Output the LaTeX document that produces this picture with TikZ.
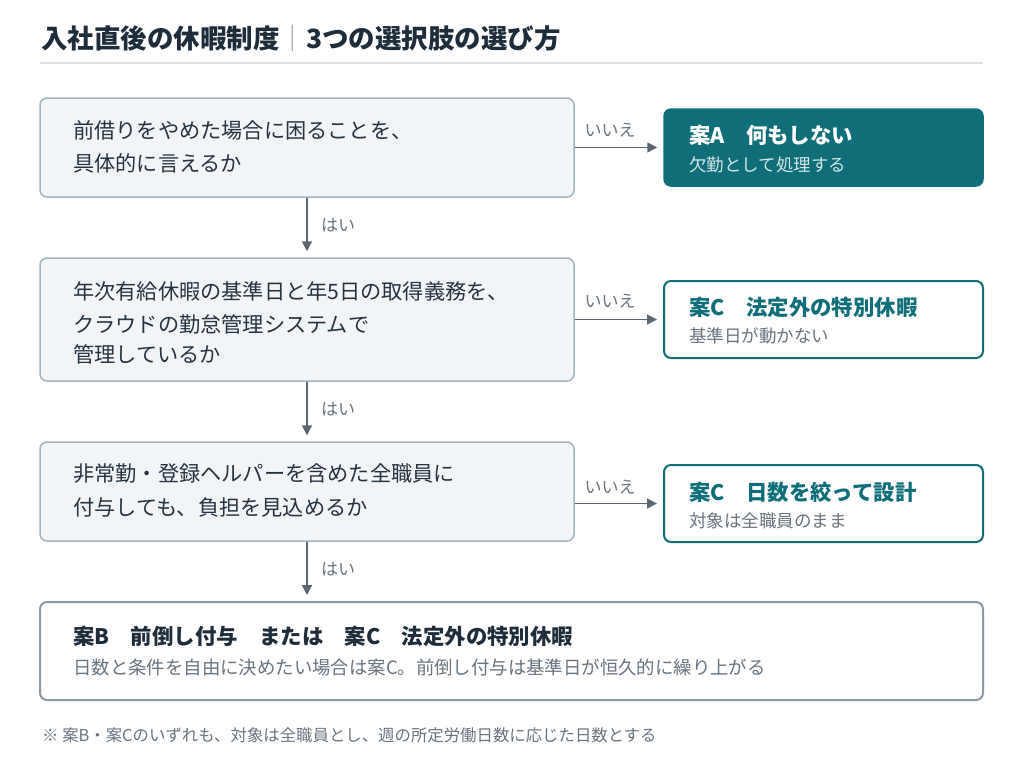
\documentclass[tikz,border=0pt]{standalone}
\usepackage{fontspec}
\setmainfont{Noto Sans CJK JP}
\usepackage{tikz}
\usetikzlibrary{positioning,arrows.meta}

\definecolor{ink}{HTML}{1F2D3A}
\definecolor{qtxt}{HTML}{27333E}
\definecolor{muted}{HTML}{69747E}
\definecolor{qfill}{HTML}{F1F5F8}
\definecolor{qline}{HTML}{A3B4C1}
\definecolor{planteal}{HTML}{0F6E78}
\definecolor{paletxt}{HTML}{D3E7E9}
\definecolor{arrowc}{HTML}{5B6670}
\definecolor{rulec}{HTML}{DCE1E6}
\definecolor{bline}{HTML}{8C98A2}

\begin{document}
\begin{tikzpicture}[x=1pt,y=-1pt,inner sep=0pt,
  qbox/.style={draw=qline,fill=qfill,line width=1.5pt,rounded corners=7pt},
  abox/.style={draw=planteal,fill=planteal,line width=1.5pt,rounded corners=7pt},
  cbox/.style={draw=planteal,fill=white,line width=2pt,rounded corners=7pt},
  bbox/.style={draw=bline,fill=white,line width=2pt,rounded corners=7pt},
  qtext/.style={anchor=west,text=qtxt,font=\fontsize{21.2}{25}\selectfont},
  ptitle/.style={anchor=west,text=planteal,font=\fontsize{21.4}{25}\selectfont\bfseries},
  psub/.style={anchor=west,text=muted,font=\fontsize{17.5}{21}\selectfont},
  lbl/.style={text=muted,font=\fontsize{17}{19}\selectfont},
  flow/.style={draw=arrowc,line width=1.6pt,shorten >=6pt,-{Triangle[length=10pt,width=10pt]}}]
\useasboundingbox (0,0) rectangle (1024,771);

% title
\node[anchor=west,text=ink,font=\fontsize{26.5}{30}\selectfont\bfseries] (title) at (41,38)
  {入社直後の休暇制度{\mdseries\color{bline}｜}3つの選択肢の選び方};
\draw[rulec,line width=2pt] (40,63) -- (983,63);

% questions
\node[qbox,minimum width=534pt,minimum height=99pt] (q1) at (307,147.5) {};
\node[qbox,minimum width=534pt,minimum height=123pt] (q2) at (307,319.5) {};
\node[qbox,minimum width=534pt,minimum height=99pt] (q3) at (307,491.5) {};

\node[qtext] (q1a) at (73,130) {前借りをやめた場合に困ることを、};
\node[qtext] (q1b) at (73,163) {具体的に言えるか};
\node[qtext] (q2a) at (73,291) {年次有給休暇の基準日と年5日の取得義務を、};
\node[qtext] (q2b) at (73,324) {クラウドの勤怠管理システムで};
\node[qtext] (q2c) at (73,354) {管理しているか};
\node[qtext] (q3a) at (73,474) {非常勤・登録ヘルパーを含めた全職員に};
\node[qtext] (q3b) at (73,507) {付与しても、負担を見込めるか};

% plans
\node[abox,minimum width=319pt,minimum height=77pt] (planA) at (823.5,147.5) {};
\node[ptitle,text=white] (planAt) at (689,135) {案A　何もしない};
\node[psub,text=paletxt] (planAs) at (689,165) {欠勤として処理する};

\node[cbox,minimum width=319pt,minimum height=77pt] (planC1) at (823.5,319.5) {};
\node[ptitle] (planC1t) at (689,307) {案C　法定外の特別休暇};
\node[psub] (planC1s) at (689,336) {基準日が動かない};

\node[cbox,minimum width=319pt,minimum height=77pt] (planC2) at (823.5,503.5) {};
\node[ptitle] (planC2t) at (689,492) {案C　日数を絞って設計};
\node[psub] (planC2s) at (689,521) {対象は全職員のまま};

\node[bbox,minimum width=943pt,minimum height=98pt] (planB) at (511.5,651) {};
\node[ptitle,text=ink] (planBt) at (73,636) {案B　前倒し付与　または　案C　法定外の特別休暇};
\node[psub,font=\fontsize{18.4}{22}\selectfont] (planBs) at (73,667) {日数と条件を自由に決めたい場合は案C。前倒し付与は基準日が恒久的に繰り上がる};

% connectors
\draw[flow] (q1.east) -- (planA.west);
\draw[flow] (q2.east) -- (planC1.west);
\draw[flow] (q3.east |- planC2.west) -- (planC2.west);
\draw[flow] (q1.south) -- (q2.north);
\draw[flow] (q2.south) -- (q3.north);
\draw[flow] (q3.south) -- (planB.north -| q3.south);

\node[lbl] (no1) at (610,130) {いいえ};
\node[lbl] (no2) at (610,301) {いいえ};
\node[lbl] (no3) at (610,487) {いいえ};
\node[lbl,anchor=west] (yes1) at (321,225) {はい};
\node[lbl,anchor=west] (yes2) at (321,409) {はい};
\node[lbl,anchor=west] (yes3) at (321,569) {はい};

% note
\node[anchor=west,text=muted,font=\fontsize{16.4}{20}\selectfont] (note) at (42,735)
  {※ 案B・案Cのいずれも、対象は全職員とし、週の所定労働日数に応じた日数とする};
\end{tikzpicture}
\end{document}
